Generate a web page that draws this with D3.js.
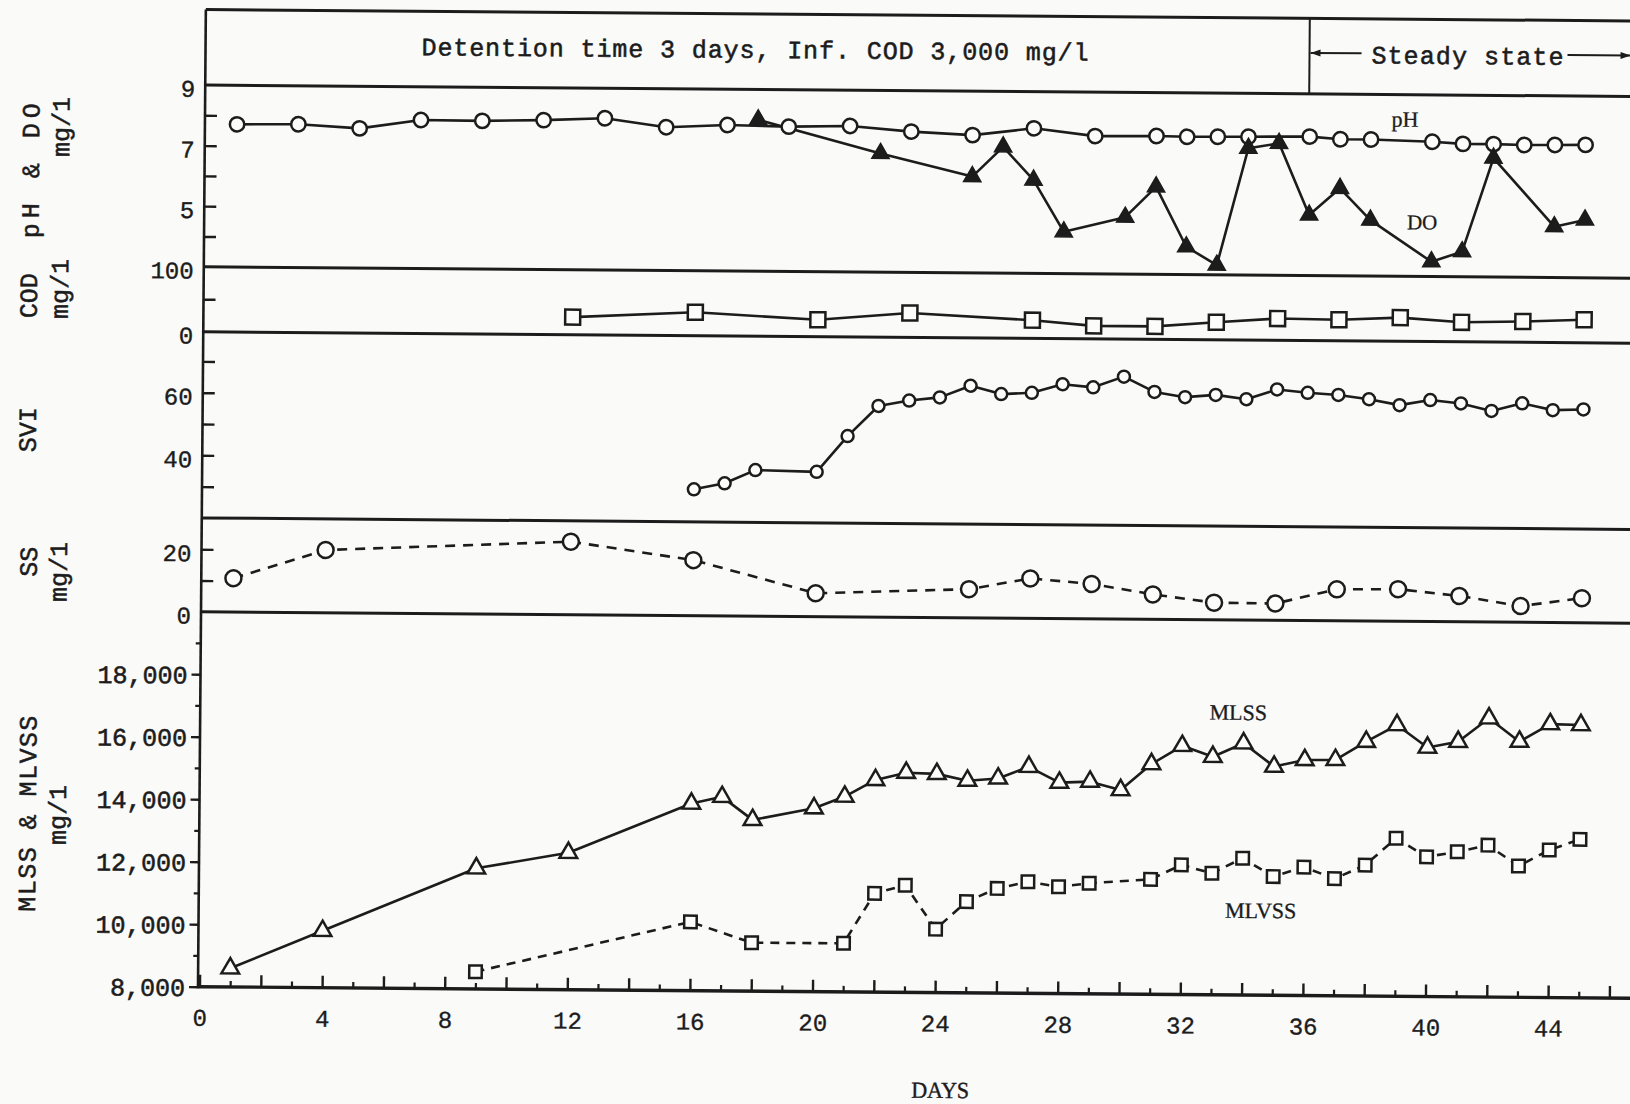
<!DOCTYPE html>
<html>
<head>
<meta charset="utf-8">
<script src="https://cdn.jsdelivr.net/npm/d3@7"></script>
<style>
  html, body { margin: 0; padding: 0; background: #fafaf9; }
  svg { display: block; }
</style>
</head>
<body>
<svg id="chart" width="1630" height="1104"></svg>
<script>
// ---- Data: daily readings of the activated-sludge run ----
const phDays   = [1, 3, 5, 7, 9, 11, 13, 15, 17, 19, 21, 23, 25, 27, 29, 31, 32, 33, 34, 36, 37, 38, 40, 41, 42, 43, 44, 45];
const phValues = [7.71, 7.73, 7.61, 7.90, 7.89, 7.93, 8.01, 7.73, 7.82, 7.78, 7.82, 7.65, 7.55, 7.79, 7.55, 7.57, 7.55, 7.56, 7.57, 7.59, 7.51, 7.51, 7.45, 7.39, 7.39, 7.37, 7.38, 7.39];

const doDays   = [18, 22, 25, 26, 27, 28, 30, 31, 32, 33, 34, 35, 36, 37, 38, 40, 41, 42, 44, 45];
const doValues = [8.0, 6.92, 6.18, 7.17, 6.08, 4.38, 4.88, 5.89, 3.92, 3.32, 7.19, 7.36, 5.0, 5.89, 4.85, 3.49, 3.83, 6.93, 4.68, 4.91];

const codDays   = [12, 16, 20, 23, 27, 29, 31, 33, 35, 37, 39, 41, 43, 45];
const codValues = [27, 36, 26, 37.5, 28, 20, 20, 27, 33.5, 32.5, 36.5, 30, 32, 35.5];

const sviDays   = [16, 17, 18, 20, 21, 22, 23, 24, 25, 26, 27, 28, 29, 30, 31, 32, 33, 34, 35, 36, 37, 38, 39, 40, 41, 42, 43, 44, 45];
const sviValues = [30.4, 32.4, 36.7, 36.3, 47.8, 57.5, 59.3, 60.4, 64.2, 61.6, 62.1, 64.9, 64.0, 67.5, 62.7, 61.1, 61.9, 60.6, 63.8, 62.8, 62.2, 60.9, 59.1, 60.8, 59.8, 57.5, 60.0, 57.9, 58.2];

const ssDays   = [1, 4, 12, 16, 20, 25, 27, 29, 31, 33, 35, 37, 39, 41, 43, 45];
const ssValues = [10.8, 20.1, 23.4, 17.8, 7.5, 9.2, 12.8, 11.2, 8.0, 5.5, 5.4, 10.1, 10.3, 8.3, 5.2, 7.9];

const mlssDays   = [1, 4, 9, 12, 16, 17, 18, 20, 21, 22, 23, 24, 25, 26, 27, 28, 29, 30, 31, 32, 33, 34, 35, 36, 37, 38, 39, 40, 41, 42, 43, 44, 45];
const mlssValues = [8600, 9820, 11860, 12380, 13990, 14210, 13480, 13870, 14250, 14790, 15030, 15000, 14790, 14870, 15250, 14750, 14790, 14530, 15370, 15960, 15620, 16060, 15320, 15540, 15550, 16140, 16680, 15970, 16160, 16920, 16180, 16750, 16730];

const mlvssDays   = [9, 16, 18, 21, 22, 23, 24, 25, 26, 27, 28, 29, 31, 32, 33, 34, 35, 36, 37, 38, 39, 40, 41, 42, 43, 44, 45];
const mlvssValues = [8550, 10200, 9550, 9555, 11160, 11430, 10030, 10920, 11350, 11570, 11420, 11540, 11680, 12150, 11890, 12380, 11800, 12110, 11750, 12190, 13060, 12470, 12640, 12860, 12200, 12720, 13070];

// ---- Tick values and labels ----
const dayLabels   = [0, 4, 8, 12, 16, 20, 24, 28, 32, 36, 40, 44];
const phTicks     = [4, 5, 6, 7, 8];
const phLabels    = [9, 7, 5];
const codTicks    = [50];
const codLabels   = [100, 0];
const sviTicks    = [30, 40, 50, 60, 70];
const sviLabels   = [60, 40];
const ssTicks     = [10, 20];
const ssLabels    = [20, 0];
const mlTicks     = [8000, 10000, 12000, 14000, 16000, 18000];
const mlMinor     = [9000, 11000, 13000, 15000, 17000, 19000];

const headerText  = "Detention time 3 days, Inf. COD 3,000 mg/l";
const steadyText  = "Steady state";

// ---- Styling ----
const ink   = "#1c1c1c";
const paper = "#fcfcfb";
const mono  = "'Liberation Mono', 'DejaVu Sans Mono', monospace";
const serif = "'Liberation Serif', 'DejaVu Serif', serif";

const svg = d3.select("#chart");
// the whole sheet sits a little skewed on the page
const g = svg.append("g").attr("transform", "rotate(0.46 198 987)");

// typewriter-style text: a thin outline thickens the strokes
function inked(sel, w) {
  return sel.attr("fill", ink).attr("stroke", ink).attr("stroke-width", w == null ? 0.55 : w);
}

// ---- Scales ----
const axisX = 198;
const x     = d3.scaleLinear().domain([0, 46]).range([199.5, 199.5 + 46 * 30.65]);
const yPH   = d3.scaleLinear().domain([3, 9]).range([266.7, 85]);
const yCOD  = d3.scaleLinear().domain([0, 100]).range([331.7, 266.7]);
const ySVI  = d3.scaleLinear().domain([20, 80]).range([517.9, 330.1]);
const ySS   = d3.scaleLinear().domain([0, 30]).range([611.7, 518.1]);
const yML   = d3.scaleLinear().domain([8000, 20000]).range([986.7, 611.7]);

// ---- Frame: panel separators and left spine ----
const rightEnd = 1650;
const separators = [9.5, yPH(9), yPH(3), yCOD(0), ySVI(20), ySS(0)];
g.selectAll("line.sep").data(separators).enter().append("line")
  .attr("class", "sep")
  .attr("x1", axisX).attr("x2", rightEnd)
  .attr("y1", d => d).attr("y2", d => d)
  .attr("stroke", ink).attr("stroke-width", 3);

g.append("line").attr("x1", axisX).attr("x2", rightEnd)
  .attr("y1", yML(8000)).attr("y2", yML(8000))
  .attr("stroke", ink).attr("stroke-width", 3.4);

g.append("line").attr("x1", axisX).attr("x2", axisX)
  .attr("y1", 9.5).attr("y2", yML(8000) + 1.5)
  .attr("stroke", ink).attr("stroke-width", 2.6);

// ---- Header box ----
const dividerX = 1302;
g.append("line").attr("x1", dividerX).attr("x2", dividerX)
  .attr("y1", 9.5).attr("y2", yPH(9))
  .attr("stroke", ink).attr("stroke-width", 2);

inked(g.append("text").attr("x", 414).attr("y", 53.5)
  .attr("font-family", mono).attr("font-size", 25)
  .attr("textLength", 667).attr("lengthAdjust", "spacing")
  .text(headerText));

inked(g.append("text").attr("x", 1364).attr("y", 54)
  .attr("font-family", mono).attr("font-size", 25)
  .attr("textLength", 192).attr("lengthAdjust", "spacing")
  .text(steadyText));

// arrows bracketing the steady-state period
const arrowY = 44;
function arrow(xFrom, xTo) {
  g.append("line").attr("x1", xFrom).attr("x2", xTo).attr("y1", arrowY).attr("y2", arrowY)
    .attr("stroke", ink).attr("stroke-width", 2);
  const dir = Math.sign(xTo - xFrom);
  g.append("path")
    .attr("d", `M${xTo},${arrowY} L${xTo - dir * 10},${arrowY - 3.5} L${xTo - dir * 10},${arrowY + 3.5} Z`)
    .attr("fill", ink);
}
arrow(1354, dividerX + 1);
arrow(1560, 1623);

// ---- Left axes ----
function leftAxis(scale, ticks, labels, size) {
  const ax = d3.axisLeft(scale)
    .tickValues(ticks.concat(labels.filter(v => !ticks.includes(v))))
    .tickSizeInner(-size).tickSizeOuter(0).tickPadding(10)
    .tickFormat(d => labels.includes(d) ? String(d) : "");
  const sel = g.append("g").attr("transform", `translate(${axisX},0)`).call(ax);
  sel.select(".domain").remove();
  sel.selectAll(".tick line").attr("stroke", ink).attr("stroke-width", 2.4)
    .filter(d => !ticks.includes(d)).remove();
  inked(sel.selectAll(".tick text").attr("font-family", mono).attr("font-size", 24)
    .attr("dy", "0.48em"), 0.4);
  return sel;
}
leftAxis(yPH, phTicks, phLabels, 12);
leftAxis(yCOD, codTicks, codLabels, 12);
leftAxis(ySVI, sviTicks, sviLabels, 12);
leftAxis(ySS, ssTicks, ssLabels, 12);

// solids axis: ticks point outward, comma-grouped labels
const mlAxis = g.append("g").attr("transform", `translate(${axisX},0)`)
  .call(d3.axisLeft(yML).tickValues(mlTicks).tickSizeInner(9).tickSizeOuter(0)
    .tickPadding(4).tickFormat(d3.format(",")));
mlAxis.select(".domain").remove();
mlAxis.selectAll(".tick line").attr("stroke", ink).attr("stroke-width", 2.4);
inked(mlAxis.selectAll(".tick text").attr("font-family", mono).attr("font-size", 25)
  .attr("dy", "0.36em"));

const mlMinorAxis = g.append("g").attr("transform", `translate(${axisX},0)`)
  .call(d3.axisLeft(yML).tickValues(mlMinor).tickSizeInner(5).tickSizeOuter(0).tickFormat(""));
mlMinorAxis.select(".domain").remove();
mlMinorAxis.selectAll(".tick line").attr("stroke", ink).attr("stroke-width", 2.2);

// ---- Day axis ----
const xBase = yML(8000);
const xMajorAxis = g.append("g").attr("transform", `translate(0,${xBase})`)
  .call(d3.axisBottom(x).tickValues(d3.range(0, 47, 2)).tickSizeInner(-12).tickSizeOuter(0)
    .tickPadding(22).tickFormat(d => dayLabels.includes(d) ? String(d) : ""));
xMajorAxis.select(".domain").remove();
xMajorAxis.selectAll(".tick line").attr("stroke", ink).attr("stroke-width", 2.4);
inked(xMajorAxis.selectAll(".tick text").attr("font-family", mono).attr("font-size", 24), 0.35);

const xMinorAxis = g.append("g").attr("transform", `translate(0,${xBase})`)
  .call(d3.axisBottom(x).tickValues(d3.range(1, 47, 2)).tickSizeInner(-6).tickSizeOuter(0).tickFormat(""));
xMinorAxis.select(".domain").remove();
xMinorAxis.selectAll(".tick line").attr("stroke", ink).attr("stroke-width", 2.2);

// ---- Axis titles (rotated) ----
function sideLabel(text, cx, cy, len) {
  const t = g.append("text")
    .attr("transform", `translate(${cx},${cy}) rotate(-90)`)
    .attr("text-anchor", "middle").attr("dominant-baseline", "central")
    .attr("font-family", mono).attr("font-size", 25)
    .text(text);
  inked(t, 0.5);
  if (len) t.attr("textLength", len).attr("lengthAdjust", "spacing");
}
sideLabel("pH & DO", 26, 172, 135);
sideLabel("mg/1", 56, 128);
sideLabel("COD", 25, 297);
sideLabel("mg/1", 56, 290);
sideLabel("SVI", 25, 431);
sideLabel("SS", 27, 563);
sideLabel("mg/1", 57, 573);
sideLabel("MLSS & MLVSS", 28, 815, 196);
sideLabel("mg/1", 58, 816);

inked(g.append("text").attr("x", 941).attr("y", 1092)
  .attr("text-anchor", "middle").attr("font-family", serif).attr("font-size", 23)
  .attr("textLength", 58).attr("lengthAdjust", "spacingAndGlyphs")
  .text("DAYS"), 0.4);

// ---- Series ----
const line = d3.line();

function drawLine(days, values, y, dash) {
  g.append("path")
    .attr("d", line(days.map((d, i) => [x(d), y(values[i])])))
    .attr("fill", "none").attr("stroke", ink).attr("stroke-width", 2.6)
    .attr("stroke-linejoin", "round")
    .attr("stroke-dasharray", dash || null);
}

function drawCircles(days, values, y, r) {
  g.append("g").selectAll("circle").data(days).enter().append("circle")
    .attr("cx", d => x(d)).attr("cy", (d, i) => y(values[i])).attr("r", r)
    .attr("fill", paper).attr("stroke", ink).attr("stroke-width", 2.5);
}

function drawSquares(days, values, y, s) {
  g.append("g").selectAll("rect").data(days).enter().append("rect")
    .attr("x", d => x(d) - s / 2).attr("y", (d, i) => y(values[i]) - s / 2)
    .attr("width", s).attr("height", s)
    .attr("fill", paper).attr("stroke", ink).attr("stroke-width", 2.5);
}

function drawTriangles(days, values, y, size, filled) {
  const sym = d3.symbol(d3.symbolTriangle, size);
  g.append("g").selectAll("path").data(days).enter().append("path")
    .attr("d", sym)
    .attr("transform", (d, i) => `translate(${x(d)},${y(values[i])})`)
    .attr("fill", filled ? ink : paper)
    .attr("stroke", ink).attr("stroke-width", filled ? 1.5 : 2.5)
    .attr("stroke-linejoin", "miter");
}

// pH and DO
drawLine(doDays, doValues, yPH);
drawLine(phDays, phValues, yPH);
drawCircles(phDays, phValues, yPH, 7.2);
drawTriangles(doDays, doValues, yPH, 130, true);

// effluent COD
drawLine(codDays, codValues, yCOD);
drawSquares(codDays, codValues, yCOD, 15);

// SVI
drawLine(sviDays, sviValues, ySVI);
drawCircles(sviDays, sviValues, ySVI, 6);

// effluent SS
drawLine(ssDays, ssValues, ySS, "10,8");
drawCircles(ssDays, ssValues, ySS, 8);

// MLSS and MLVSS
drawLine(mlvssDays, mlvssValues, yML, "9,7");
drawLine(mlssDays, mlssValues, yML);
drawTriangles(mlssDays, mlssValues, yML, 135, false);
drawSquares(mlvssDays, mlvssValues, yML, 12.5);

// ---- Series names ----
function seriesName(text, cx, baseline, size) {
  inked(g.append("text").attr("x", cx).attr("y", baseline).attr("text-anchor", "middle")
    .attr("font-family", serif).attr("font-size", size).text(text), 0.3);
}
seriesName("pH", 1398, 117, 22);
seriesName("DO", 1416, 219.5, 21);
seriesName("MLSS", 1236, 711.5, 22);
seriesName("MLVSS", 1260, 909.5, 22);
</script>
</body>
</html>
